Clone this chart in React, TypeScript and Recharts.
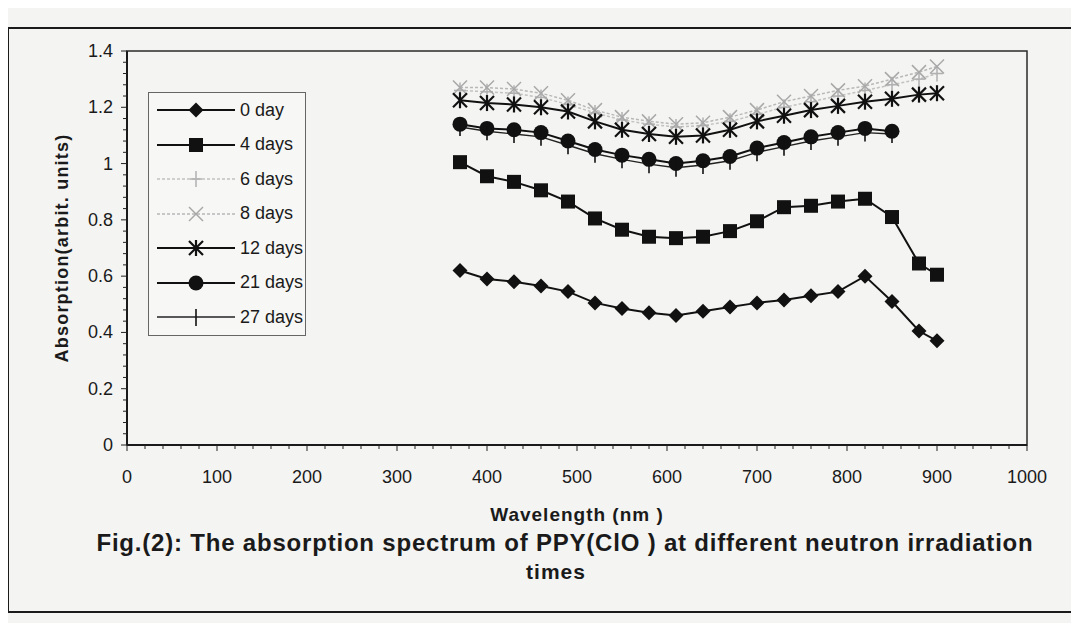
import { LineChart, Line, XAxis, YAxis, Legend, ReferenceArea, Label } from "recharts";

// wavelength (nm) of each measured point
const wavelengths = [370, 400, 430, 460, 490, 520, 550, 580, 610, 640, 670, 700, 730, 760, 790, 820, 850, 880, 900];

// absorption (arbit. units) per irradiation time
const day0 = [0.62, 0.59, 0.58, 0.565, 0.545, 0.505, 0.485, 0.47, 0.46, 0.475, 0.49, 0.505, 0.515, 0.53, 0.545, 0.6, 0.51, 0.405, 0.37];
const day4 = [1.005, 0.955, 0.935, 0.905, 0.865, 0.805, 0.765, 0.74, 0.735, 0.74, 0.76, 0.795, 0.845, 0.85, 0.865, 0.875, 0.81, 0.645, 0.605];
const day6 = [1.26, 1.255, 1.25, 1.235, 1.21, 1.18, 1.155, 1.14, 1.13, 1.135, 1.15, 1.175, 1.2, 1.22, 1.24, 1.26, 1.28, 1.3, 1.32];
const day8 = [1.27, 1.27, 1.265, 1.25, 1.225, 1.19, 1.165, 1.15, 1.14, 1.145, 1.165, 1.19, 1.22, 1.24, 1.26, 1.275, 1.3, 1.325, 1.345];
const day12 = [1.225, 1.215, 1.21, 1.2, 1.185, 1.15, 1.12, 1.105, 1.095, 1.1, 1.12, 1.15, 1.17, 1.19, 1.205, 1.22, 1.23, 1.245, 1.25];
const day21 = [1.14, 1.125, 1.12, 1.11, 1.08, 1.05, 1.03, 1.015, 1.0, 1.01, 1.025, 1.055, 1.075, 1.095, 1.11, 1.125, 1.115];
const day27 = [1.13, 1.115, 1.105, 1.095, 1.065, 1.035, 1.015, 0.998, 0.985, 0.995, 1.01, 1.04, 1.06, 1.08, 1.095, 1.11, 1.105];

const xMajor = [0, 100, 200, 300, 400, 500, 600, 700, 800, 900, 1000];
const yMajor = [0, 0.2, 0.4, 0.6, 0.8, 1, 1.2, 1.4];

const series = [
  { key: "d0", name: "0 day", values: day0, color: "#111", width: 2, dash: undefined, shape: "diamond" },
  { key: "d4", name: "4 days", values: day4, color: "#111", width: 2, dash: undefined, shape: "square" },
  { key: "d6", name: "6 days", values: day6, color: "#c2c2c2", width: 1.5, dash: "3 2", shape: "plus" },
  { key: "d8", name: "8 days", values: day8, color: "#b8b8b8", width: 1.5, dash: "3 2", shape: "cross" },
  { key: "d12", name: "12 days", values: day12, color: "#111", width: 2, dash: undefined, shape: "star" },
  { key: "d21", name: "21 days", values: day21, color: "#111", width: 2, dash: undefined, shape: "circle" },
  { key: "d27", name: "27 days", values: day27, color: "#222", width: 1.4, dash: undefined, shape: "tick" },
];

const rows = wavelengths.map((wl, i) => {
  const row: Record<string, number | undefined> = { wl };
  series.forEach((s) => {
    row[s.key] = s.values[i];
  });
  return row;
});

// minor ticks between the labelled ones
const xTicks = xMajor.flatMap((v, i) =>
  i < xMajor.length - 1 ? [0, 20, 40, 60, 80].map((d) => v + d) : [v]
);
const yTicks = yMajor.flatMap((v, i) =>
  i < yMajor.length - 1 ? [0, 0.04, 0.08, 0.12, 0.16].map((d) => +(v + d).toFixed(2)) : [v]
);

const FONT = '"Liberation Sans", Arial, sans-serif';

function Marker({ shape, cx, cy }: { shape: string; cx: number; cy: number }) {
  switch (shape) {
    case "diamond":
      return <polygon points={`${cx},${cy - 7.5} ${cx + 7.5},${cy} ${cx},${cy + 7.5} ${cx - 7.5},${cy}`} fill="#111" />;
    case "square":
      return <rect x={cx - 7} y={cy - 7} width={14} height={14} fill="#111" />;
    case "plus":
      return (
        <g stroke="#b0b0b0" strokeWidth={1.5}>
          <line x1={cx} y1={cy - 8} x2={cx} y2={cy + 8} />
          <line x1={cx - 6} y1={cy} x2={cx + 6} y2={cy} />
        </g>
      );
    case "cross":
      return (
        <g stroke="#a8a8a8" strokeWidth={1.5}>
          <line x1={cx - 7} y1={cy - 7} x2={cx + 7} y2={cy + 7} />
          <line x1={cx - 7} y1={cy + 7} x2={cx + 7} y2={cy - 7} />
        </g>
      );
    case "star":
      return (
        <g stroke="#111" strokeWidth={2.2}>
          <line x1={cx - 7} y1={cy - 7} x2={cx + 7} y2={cy + 7} />
          <line x1={cx - 7} y1={cy + 7} x2={cx + 7} y2={cy - 7} />
          <line x1={cx} y1={cy - 8} x2={cx} y2={cy + 8} />
        </g>
      );
    case "circle":
      return <circle cx={cx} cy={cy} r={7.5} fill="#111" />;
    case "tick":
      return <line x1={cx} y1={cy - 8} x2={cx} y2={cy + 9} stroke="#111" strokeWidth={1.6} />;
    default:
      return null;
  }
}

const renderDot = (shape: string) => (p: any) => {
  if (p.cx == null || p.cy == null || p.value == null) return <g key={`${shape}-${p.index}`} />;
  return (
    <g key={`${shape}-${p.index}`}>
      <Marker shape={shape} cx={p.cx} cy={p.cy} />
    </g>
  );
};

const XTick = (props: any) => {
  const { x, y, payload } = props;
  const v = payload.value as number;
  const major = v % 100 === 0;
  return (
    <g>
      <line x1={x} y1={y} x2={x} y2={y + (major ? 6 : 4)} stroke="#222" />
      {major && (
        <text x={x} y={y + 38} textAnchor="middle" fontSize={18} fontFamily={FONT} fill="#1a1a1a">
          {v}
        </text>
      )}
    </g>
  );
};

const YTick = (props: any) => {
  const { x, y, payload } = props;
  const v = payload.value as number;
  const major = Math.abs(v * 5 - Math.round(v * 5)) < 1e-6;
  return (
    <g>
      <line x1={x} y1={y} x2={x - (major ? 6 : 4)} y2={y} stroke="#222" />
      {major && (
        <text x={x - 14} y={y + 6} textAnchor="end" fontSize={18} fontFamily={FONT} fill="#1a1a1a">
          {String(+v.toFixed(1))}
        </text>
      )}
    </g>
  );
};

const LegendBox = () => (
  <div
    style={{
      border: "1.5px solid #666",
      background: "#f7f7f5",
      width: 158,
      boxSizing: "border-box",
      fontFamily: FONT,
      fontSize: 18,
      color: "#1a1a1a",
    }}
  >
    {series.map((s) => (
      <div key={s.key} style={{ display: "flex", alignItems: "center", height: 34.5 }}>
        <svg width={84} height={34} style={{ marginLeft: 6 }}>
          <line
            x1={2}
            y1={17}
            x2={80}
            y2={17}
            stroke={s.color}
            strokeWidth={s.width}
            strokeDasharray={s.dash}
          />
          <Marker shape={s.shape} cx={41} cy={17} />
        </svg>
        <span style={{ marginLeft: 1 }}>{s.name}</span>
      </div>
    ))}
  </div>
);

export default function App() {
  return (
    <div
      style={{
        position: "relative",
        width: 1079,
        height: 631,
        margin: -8,
        background: "#f4f4f2",
        overflow: "hidden",
        fontFamily: FONT,
      }}
    >
      {/* figure frame */}
      <div
        style={{
          position: "absolute",
          left: 7,
          top: 27,
          width: 1120,
          height: 582,
          border: "2.5px solid #1a1a1a",
        }}
      />

      <div style={{ position: "absolute", left: 0, top: 0 }}>
        <LineChart width={1079} height={631} data={rows} margin={{ top: 51, right: 52, bottom: 106, left: 17 }}>
          <XAxis
            dataKey="wl"
            type="number"
            domain={[0, 1000]}
            ticks={xTicks}
            interval={0}
            tickLine={false}
            tickSize={0}
            tickMargin={0}
            tick={<XTick />}
            height={80}
            axisLine={{ stroke: "#1a1a1a", strokeWidth: 2 }}
          >
            <Label
              value="Wavelength (nm )"
              position="insideBottom"
              offset={4}
              style={{ fontFamily: FONT, fontSize: 19, fontWeight: "bold", letterSpacing: 1, fill: "#1a1a1a" }}
            />
          </XAxis>
          <YAxis
            type="number"
            domain={[0, 1.4]}
            ticks={yTicks}
            interval={0}
            tickLine={false}
            tickSize={0}
            tickMargin={0}
            tick={<YTick />}
            width={110}
            axisLine={{ stroke: "#1a1a1a", strokeWidth: 2 }}
          >
            <Label
              value="Absorption(arbit. units)"
              angle={-90}
              position="insideLeft"
              offset={45}
              style={{
                textAnchor: "middle",
                fontFamily: FONT,
                fontSize: 18,
                fontWeight: "bold",
                letterSpacing: 1.2,
                fill: "#1a1a1a",
              }}
            />
          </YAxis>
          <ReferenceArea x1={0} x2={1000} y1={0} y2={1.4} fill="none" stroke="#2a2a2a" strokeWidth={1.5} ifOverflow="visible" />
          <Legend
            layout="vertical"
            align="center"
            verticalAlign="middle"
            content={<LegendBox />}
            wrapperStyle={{ left: 148, top: 92, width: 160 }}
          />
          {series.map((s) => (
            <Line
              key={s.key}
              dataKey={s.key}
              name={s.name}
              type="linear"
              stroke={s.color}
              strokeWidth={s.width}
              strokeDasharray={s.dash}
              dot={renderDot(s.shape)}
              activeDot={false}
              isAnimationActive={false}
            />
          ))}
        </LineChart>
      </div>

      <div
        style={{
          position: "absolute",
          left: 40,
          width: 1050,
          top: 529,
          textAlign: "center",
          fontSize: 24,
          fontWeight: "bold",
          color: "#1a1a1a",
          letterSpacing: 0.8,
          whiteSpace: "nowrap",
        }}
      >
        Fig.(2): The absorption spectrum of PPY(ClO ) at different neutron irradiation
      </div>
      <div
        style={{
          position: "absolute",
          left: 456,
          width: 200,
          top: 560,
          textAlign: "center",
          fontSize: 21,
          fontWeight: "bold",
          color: "#1a1a1a",
          letterSpacing: 1,
        }}
      >
        times
      </div>
    </div>
  );
}
